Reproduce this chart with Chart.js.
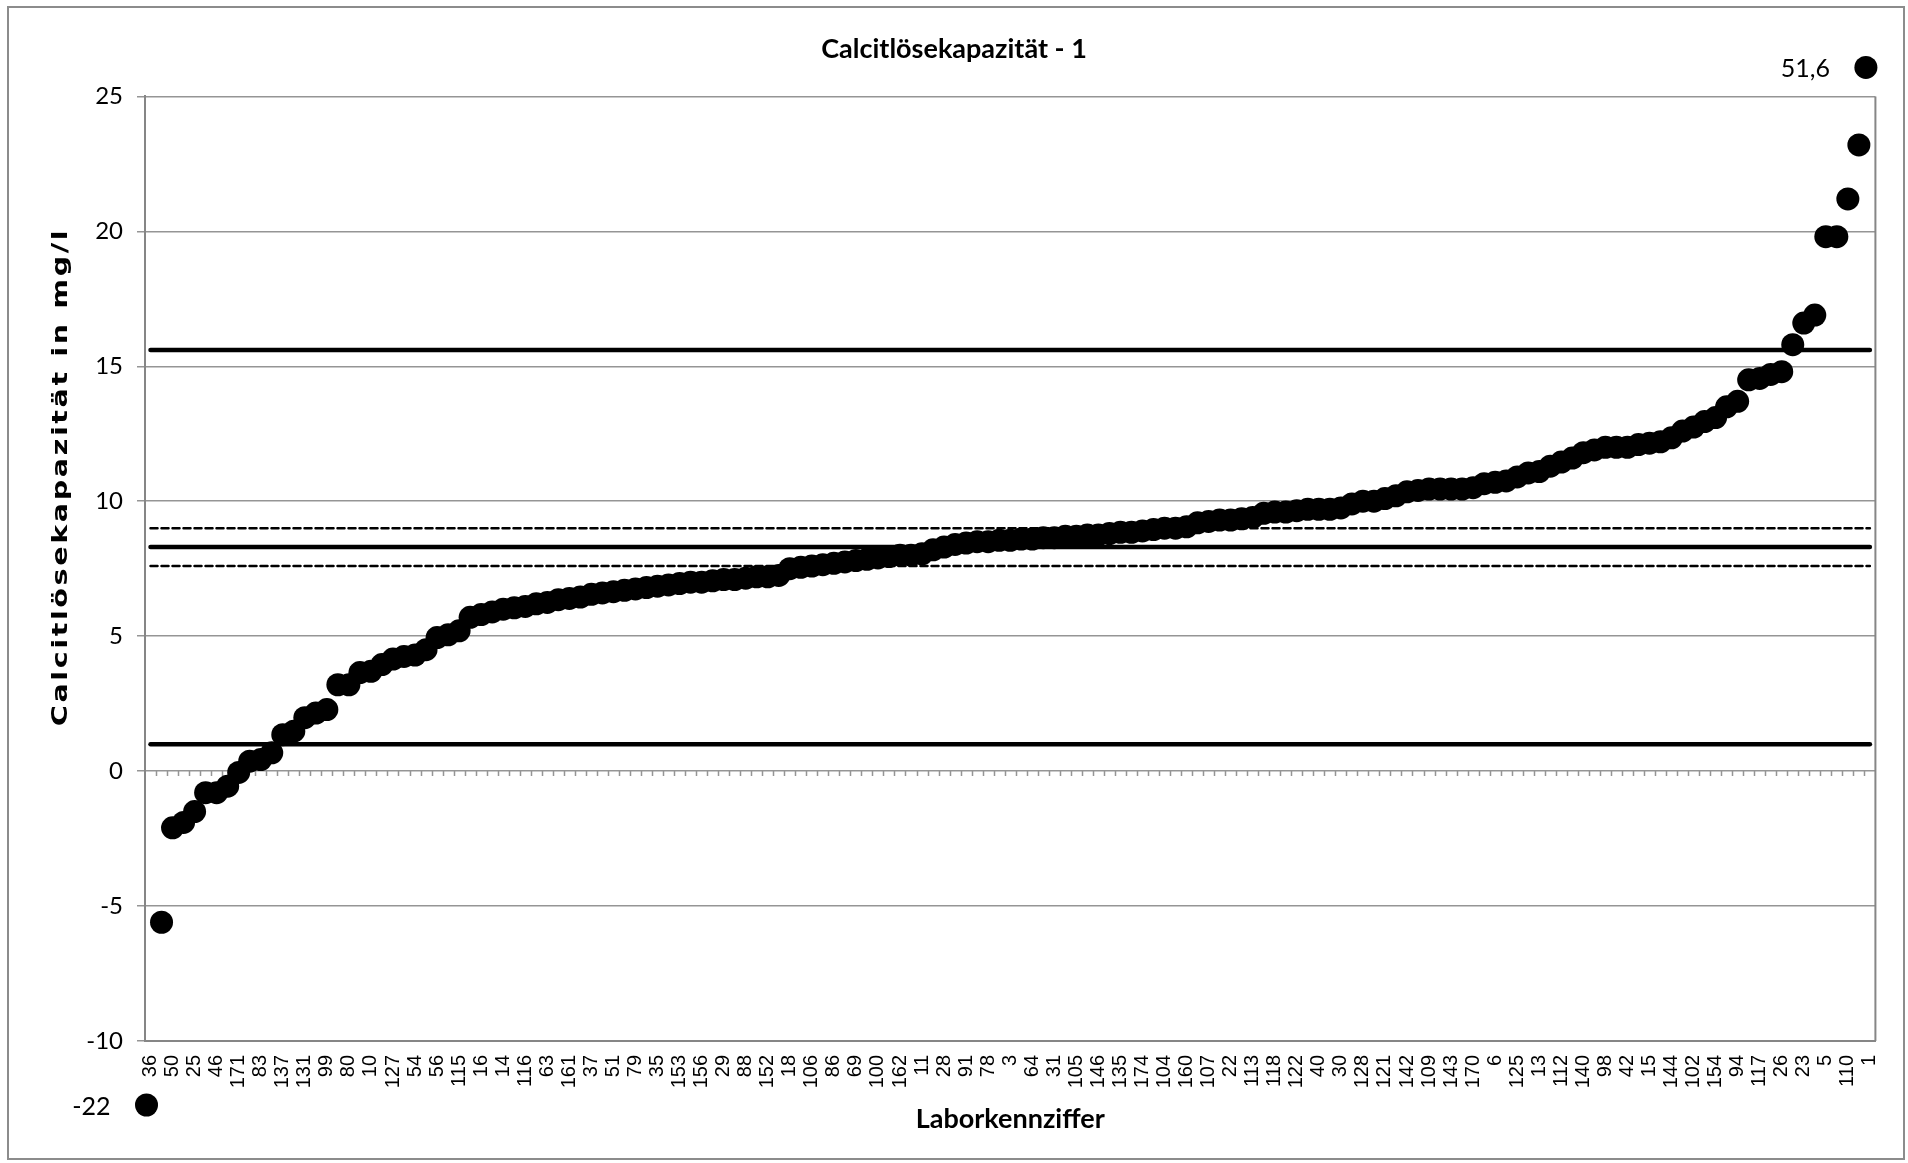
<!DOCTYPE html>
<html>
<head>
<meta charset="utf-8">
<title>Calcitlösekapazität - 1</title>
<script src="https://cdn.jsdelivr.net/npm/chart.js@4.4.1/dist/chart.umd.min.js"></script>
<style>
    html, body { margin: 0; padding: 0; background: #fff; }
    #frame {
        position: absolute; left: 7px; top: 6px; width: 1898px; height: 1154px;
        box-sizing: border-box; border: 2px solid #8c8c8c;
    }
    #chart { position: absolute; left: 0; top: 0; }
</style>
</head>
<body>
<div id="frame"></div>
<canvas id="chart" width="1908" height="1163"></canvas>
<script>
// Laborkennziffern shown on the axis (Excel shows every second lab)
const labLabels = [
    '36', '50', '25', '46', '171', '83', '137', '131', '99', '80',
    '10', '127', '54', '56', '115', '16', '14', '116', '63', '161',
    '37', '51', '79', '35', '153', '156', '29', '88', '152', '18',
    '106', '86', '69', '100', '162', '11', '28', '91', '78', '3',
    '64', '31', '105', '146', '135', '174', '104', '160', '107', '22',
    '113', '118', '122', '40', '30', '128', '121', '142', '109', '143',
    '170', '6', '125', '13', '112', '140', '98', '42', '15', '144',
    '102', '154', '94', '117', '26', '23', '5', '110', '1'
];

// Calcitlösekapazität in mg/l, sorted ascending (one value per lab)
const values = [
    -22, -5.6, -2.1, -1.9, -1.5, -0.8, -0.8, -0.56, -0.05, 0.37,
    0.43, 0.68, 1.35, 1.48, 1.98, 2.15, 2.28, 3.2, 3.2, 3.65,
    3.7, 3.95, 4.15, 4.25, 4.3, 4.5, 4.95, 5.05, 5.2, 5.7,
    5.8, 5.9, 6.0, 6.05, 6.1, 6.2, 6.25, 6.35, 6.4, 6.45,
    6.55, 6.6, 6.65, 6.7, 6.75, 6.8, 6.85, 6.9, 6.95, 7.0,
    7.0, 7.05, 7.1, 7.1, 7.15, 7.2, 7.2, 7.25, 7.5, 7.55,
    7.6, 7.65, 7.7, 7.75, 7.8, 7.85, 7.9, 7.95, 8.0, 8.0,
    8.05, 8.2, 8.3, 8.4, 8.45, 8.5, 8.5, 8.55, 8.55, 8.6,
    8.6, 8.65, 8.65, 8.7, 8.7, 8.75, 8.75, 8.8, 8.85, 8.85,
    8.9, 8.95, 9.0, 9.0, 9.05, 9.2, 9.25, 9.3, 9.3, 9.35,
    9.4, 9.55, 9.6, 9.6, 9.65, 9.7, 9.7, 9.7, 9.75, 9.9,
    10.0, 10.0, 10.1, 10.2, 10.35, 10.4, 10.45, 10.45, 10.45, 10.45,
    10.5, 10.65, 10.7, 10.75, 10.9, 11.05, 11.1, 11.3, 11.45, 11.6,
    11.8, 11.9, 12.0, 12.0, 12.0, 12.1, 12.15, 12.2, 12.35, 12.6,
    12.75, 12.95, 13.1, 13.5, 13.7, 14.5, 14.55, 14.7, 14.8, 15.8,
    16.6, 16.9, 19.8, 19.8, 21.2, 23.2, 51.6
];

// reference lines
const upperLimit = 15.6;
const meanValue = 8.3;
const lowerLimit = 1.0;
const confUpper = 9.0;
const confLower = 7.6;

const yTicks = { min: -10, max: 25, step: 5 };

const categories = values.map((v, i) => (i % 2 === 0 ? labLabels[i / 2] : ''));
const gridColor = '#959595';
const axisColor = '#868686';
const pointR = 11.5;

// small tick marks hanging under the zero line, one per category boundary
const zeroTicks = {
    id: 'zeroTicks',
    beforeDatasetsDraw(chart) {
        const { ctx, scales: { x, y } } = chart;
        const y0 = y.getPixelForValue(0);
        const w = x.getPixelForValue(1) - x.getPixelForValue(0);
        ctx.save();
        ctx.strokeStyle = gridColor;
        ctx.lineWidth = 1.5;
        ctx.beginPath();
        for (let i = 1; i < values.length; i++) {
            const px = Math.round(x.getPixelForValue(i) - w / 2) + 0.5;
            ctx.moveTo(px, y0);
            ctx.lineTo(px, y0 + 5);
        }
        ctx.stroke();
        // right border of the plot area
        ctx.strokeStyle = axisColor;
        ctx.lineWidth = 2;
        ctx.beginPath();
        ctx.moveTo(chart.chartArea.right, chart.chartArea.top);
        ctx.lineTo(chart.chartArea.right, chart.chartArea.bottom);
        ctx.stroke();
        ctx.restore();
    }
};

// values outside the y range are drawn as a marker with a label beside the plot
const outliers = {
    id: 'outliers',
    afterDraw(chart) {
        const { ctx, chartArea, scales: { x, y } } = chart;
        ctx.save();
        values.forEach((v, i) => {
            if (v >= y.min && v <= y.max) return;
            const px = x.getPixelForValue(i) - 4;
            const py = v > y.max ? chartArea.top - 29 : chartArea.bottom + 64;
            ctx.fillStyle = '#000';
            ctx.beginPath();
            ctx.arc(px, py, pointR, 0, Math.PI * 2);
            ctx.fill();
            ctx.font = '25px Lato';
            ctx.textAlign = 'right';
            ctx.textBaseline = 'middle';
            ctx.fillText(String(v).replace('.', ','), px - 36, py + 2);
        });
        ctx.restore();
    }
};

// y axis title (Excel renders it stretched)
const yTitle = {
    id: 'yTitle',
    afterDraw(chart) {
        const { ctx } = chart;
        ctx.save();
        ctx.translate(61, 477);
        ctx.rotate(-Math.PI / 2);
        ctx.scale(1.3, 1);
        ctx.font = 'bold 22px "DejaVu Sans"';
        ctx.letterSpacing = '2px';
        ctx.fillStyle = '#000';
        ctx.textAlign = 'center';
        ctx.textBaseline = 'middle';
        ctx.fillText('Calcitlösekapazität in mg/l', 0, 0);
        ctx.restore();
    }
};

function refLine(value, width, dash) {
    return {
        data: values.map(() => value),
        borderColor: '#000',
        borderWidth: width,
        borderDash: dash,
        borderCapStyle: 'round',
        pointRadius: 0,
        pointHoverRadius: 0,
        fill: false
    };
}

new Chart(document.getElementById('chart').getContext('2d'), {
    type: 'line',
    data: {
        labels: categories,
        datasets: [
            {
                data: values,
                showLine: false,
                pointRadius: pointR,
                pointHoverRadius: pointR,
                pointBackgroundColor: '#000',
                pointBorderWidth: 0,
                borderColor: '#000'
            },
            refLine(upperLimit, 4.5, []),
            refLine(meanValue, 4.5, []),
            refLine(lowerLimit, 4.5, []),
            refLine(confUpper, 2.5, [7, 4]),
            refLine(confLower, 2.5, [7, 4])
        ]
    },
    options: {
        responsive: false,
        animation: false,
        devicePixelRatio: 1,
        layout: { padding: { top: 0, right: 32, bottom: 0, left: 32 } },
        plugins: {
            legend: { display: false },
            tooltip: { enabled: false },
            title: {
                display: true,
                text: 'Calcitlösekapazität - 1',
                color: '#000',
                font: { family: 'Lato', size: 27, weight: 'bold', lineHeight: 1.2 },
                padding: { top: 33, bottom: 31 }
            }
        },
        scales: {
            x: {
                offset: true,
                grid: { display: false, drawTicks: false },
                border: { display: true, color: axisColor, width: 2 },
                ticks: {
                    autoSkip: false,
                    minRotation: 90,
                    maxRotation: 90,
                    padding: 14,
                    color: '#000',
                    font: { family: '"Liberation Sans"', size: 20 },
                    callback: (v, i) => categories[i]
                },
                title: {
                    display: true,
                    text: 'Laborkennziffer',
                    color: '#000',
                    font: { family: 'Lato', size: 27, weight: 'bold', lineHeight: 1.2 },
                    padding: { top: 0, bottom: 28 }
                },
                afterFit: s => { s.height = 122; }
            },
            y: {
                min: yTicks.min,
                max: yTicks.max,
                ticks: {
                    stepSize: yTicks.step,
                    padding: 14,
                    color: '#000',
                    font: { family: 'Lato', size: 24 }
                },
                grid: { color: gridColor, lineWidth: 1.5, tickLength: 8 },
                border: { display: true, color: axisColor, width: 2 },
                afterFit: s => { s.width = 113; }
            }
        }
    },
    plugins: [zeroTicks, outliers, yTitle]
});
</script>
</body>
</html>
